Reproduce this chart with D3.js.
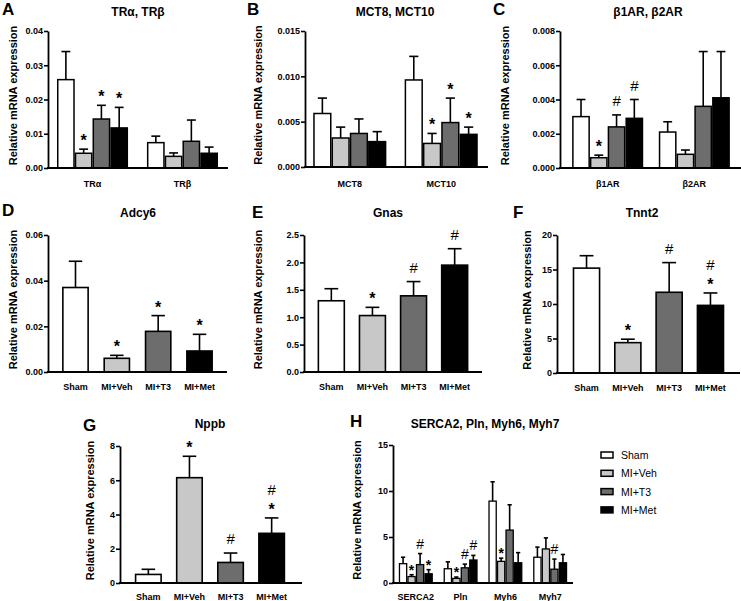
<!DOCTYPE html>
<html><head><meta charset="utf-8">
<script src="https://cdn.jsdelivr.net/npm/d3@7"></script>
<style>
body{margin:0;background:#fff;}
svg{display:block;font-family:"Liberation Sans",Arial,sans-serif;}
</style></head>
<body>
<svg id="chart" width="741" height="601"></svg>
<script>
// ---- data ----
const groups = ["Sham","MI+Veh","MI+T3","MI+Met"];
const groupColors = ["#ffffff","#c8c8c8","#6d6d6d","#000000"];

const catsA = ["TRα","TRβ"];
const meanA = [[0.0258,0.0043,0.0143,0.0117],[0.0074,0.0034,0.0078,0.0043]];
const semA  = [[0.0082,0.0012,0.0040,0.0060],[0.0019,0.0010,0.0062,0.0018]];
const marksA = [["","*","*","*"],["","","",""]];
const ticksA = [0,0.01,0.02,0.03,0.04];

const catsB = ["MCT8","MCT10"];
const meanB = [[0.0059,0.0032,0.0037,0.0028],[0.0096,0.0026,0.0049,0.0036]];
const semB  = [[0.0017,0.0012,0.0016,0.0011],[0.0026,0.0011,0.0027,0.0008]];
const marksB = [["","","",""],["","*","*","*"]];
const ticksB = [0,0.005,0.010,0.015];

const catsC = ["β1AR","β2AR"];
const meanC = [[0.0030,0.0006,0.0024,0.0029],[0.0021,0.0008,0.0036,0.0041]];
const semC  = [[0.0010,0.00015,0.0007,0.0011],[0.0006,0.00025,0.0032,0.0027]];
const marksC = [["","*","#","#"],["","","",""]];
const ticksC = [0,0.002,0.004,0.006,0.008];

const meanD = [0.037,0.006,0.0178,0.0092];
const semD  = [0.0115,0.0013,0.0069,0.0073];
const marksD = ["","*","*","*"];
const ticksD = [0,0.02,0.04,0.06];

const meanE = [1.30,1.03,1.39,1.95];
const semE  = [0.22,0.15,0.26,0.30];
const marksE = ["","*","#","#"];
const ticksE = [0,0.5,1.0,1.5,2.0,2.5];

const meanF = [15.2,4.4,11.7,9.8];
const semF  = [1.8,0.5,4.3,1.8];
const marksF = ["","*","#","#*"];
const ticksF = [0,5,10,15,20];

const meanG = [0.5,6.15,1.2,2.9];
const semG  = [0.3,1.25,0.55,0.9];
const marksG = ["","*","#","#*"];
const ticksG = [0,2,4,6,8];

const catsH = ["SERCA2","Pln","Myh6","Myh7"];
const meanH = [[2.1,0.7,2.0,1.0],[1.55,0.5,1.65,2.5],[8.9,2.35,5.75,2.2],[2.8,3.7,1.5,2.2]];
const semH  = [[0.7,0.2,1.2,0.45],[0.75,0.15,0.4,0.5],[2.1,0.35,2.75,1.1],[1.1,1.2,1.1,0.9]];
const marksH = [["","*","#","*"],["","*","#","#"],["","*","",""],["","","#",""]];
const ticksH = [0,5,10,15];

// ---- layout ----
const svg = d3.select("#chart");
const panels = [
 {letter:"A",lx:2,ly:15,title:"TRα, TRβ",tx:138,ty:16,ylx:13,x0:48,x1:227,axEnd:228,yTop:31,yBot:168,max:0.04,ticks:ticksA,fmt:".2f",cats:catsA,mean:meanA,sem:semA,marks:marksA,pi:0.21,po:0.1,labY:187},
 {letter:"B",lx:247,ly:15,title:"MCT8, MCT10",tx:395,ty:16,ylx:258,x0:305,x1:486,axEnd:488,yTop:31,yBot:167,max:0.015,ticks:ticksB,fmt:".3f",cats:catsB,mean:meanB,sem:semB,marks:marksB,pi:0.2,po:0.09,labY:187},
 {letter:"C",lx:493,ly:15,title:"β1AR, β2AR",tx:648,ty:16,ylx:505,x0:560,x1:742,axEnd:741,yTop:31,yBot:168,max:0.008,ticks:ticksC,fmt:".3f",cats:catsC,mean:meanC,sem:semC,marks:marksC,pi:0.18,po:0.14,labY:187},
 {letter:"D",lx:2,ly:216,title:"Adcy6",tx:138,ty:217,ylx:13,x0:48,x1:227,axEnd:227,yTop:235,yBot:372,max:0.06,ticks:ticksD,fmt:".2f",single:true,mean:meanD,sem:semD,marks:marksD,pi:0.35,po:0.34,labY:390},
 {letter:"E",lx:252,ly:218,title:"Gnas",tx:388,ty:217,ylx:258,x0:304,x1:482,axEnd:482,yTop:235,yBot:372,max:2.5,ticks:ticksE,fmt:".1f",single:true,mean:meanE,sem:semE,marks:marksE,pi:0.33,po:0.33,labY:390},
 {letter:"F",lx:513,ly:218,title:"Tnnt2",tx:642,ty:217,ylx:527,x0:557,x1:740,axEnd:740,yTop:235,yBot:373,max:20,ticks:ticksF,fmt:"d",single:true,mean:meanF,sem:semF,marks:marksF,pi:0.33,po:0.38,labY:391},
 {letter:"G",lx:83,ly:431,title:"Nppb",tx:210,ty:428,ylx:90,x0:120,x1:300,axEnd:302,yTop:446,yBot:583,max:8,ticks:ticksG,fmt:"d",single:true,mean:meanG,sem:semG,marks:marksG,pi:0.34,po:0.36,labY:600},
 {letter:"H",lx:350,ly:427,title:"SERCA2, Pln, Myh6, Myh7",tx:485,ty:428,ylx:357,x0:393,x1:573,axEnd:573,yTop:445,yBot:583,max:15,ticks:ticksH,fmt:"d",cats:catsH,mean:meanH,sem:semH,marks:marksH,pi:0.24,po:0.13,labY:600}
];

panels.forEach(p => {
  const g = svg.append("g");
  const y = d3.scaleLinear().domain([0,p.max]).range([p.yBot,p.yTop]);
  const cats = p.single ? groups : p.cats;
  const x = d3.scaleBand().domain(cats).range([p.x0,p.x1]).paddingInner(p.pi).paddingOuter(p.po);
  let bars = [];
  if (p.single) {
    groups.forEach((gname,i)=>bars.push({x:x(gname),w:x.bandwidth(),v:p.mean[i],e:p.sem[i],c:groupColors[i],m:p.marks[i]}));
  } else {
    const xi = d3.scaleBand().domain(groups).range([0,x.bandwidth()]);
    cats.forEach((c,ci)=>groups.forEach((gname,i)=>bars.push({x:x(c)+xi(gname),w:xi.bandwidth(),v:p.mean[ci][i],e:p.sem[ci][i],c:groupColors[i],m:p.marks[ci][i]})));
  }
  const small = !p.single && cats.length>2;
  const sw = p.single ? 1.6 : (small ? 1.3 : 1.5);
  // error bars
  bars.forEach(b=>{
    const cx = b.x + b.w/2, top = y(b.v+b.e), capW = Math.min(b.w*0.5,14);
    g.append("line").attr("x1",cx).attr("x2",cx).attr("y1",y(b.v)).attr("y2",top).attr("stroke","#000").attr("stroke-width",1.6);
    g.append("line").attr("x1",cx-capW/2).attr("x2",cx+capW/2).attr("y1",top).attr("y2",top).attr("stroke","#000").attr("stroke-width",1.6);
  });
  bars.forEach(b=>{
    g.append("rect").attr("x",b.x+sw/2).attr("y",y(b.v)).attr("width",Math.max(0,b.w-sw)).attr("height",y(0)-y(b.v))
      .attr("fill",b.c).attr("stroke","#000").attr("stroke-width",sw);
  });
  // significance marks
  bars.forEach(b=>{
    if(!b.m) return;
    const cx = b.x + b.w/2, top = y(b.v+b.e);
    const hasStar = b.m.includes("*"), hasHash = b.m.includes("#");
    let base = top - (small ? 1 : 3);
    if (hasStar) {
      g.append("text").attr("x",cx).attr("y",small ? top : top-3).attr("text-anchor","middle").attr("font-size",small?14:16).attr("font-weight","bold").text("*");
      base -= 14;
    }
    if (hasHash) {
      g.append("text").attr("x",cx).attr("y",base-(small?4:6)).attr("text-anchor","middle").attr("font-size",small?14:15).text("#");
    }
  });
  // y axis
  const ya = g.append("g").attr("transform",`translate(${p.x0},0)`)
    .call(d3.axisLeft(y).tickValues(p.ticks).tickFormat(d3.format(p.fmt)).tickSize(4).tickSizeOuter(0));
  ya.select(".domain").attr("stroke-width",1.8);
  ya.selectAll(".tick line").attr("stroke-width",1.6);
  ya.selectAll("text").attr("font-size",9).attr("font-weight","bold").attr("font-family","Liberation Sans, Arial, sans-serif").attr("fill","#000").attr("x",-5);
  // x axis line
  g.append("line").attr("x1",p.x0-1).attr("x2",p.axEnd).attr("y1",p.yBot).attr("y2",p.yBot).attr("stroke","#000").attr("stroke-width",1.8);
  // category labels
  cats.forEach(c=>{
    g.append("text").attr("x",x(c)+x.bandwidth()/2).attr("y",p.labY).attr("text-anchor","middle")
      .attr("font-size",9).attr("font-weight","bold").text(c);
  });
  // y label
  const cy = (p.yTop+p.yBot)/2 - 4;
  g.append("text").attr("transform",`translate(${p.ylx+4},${cy}) rotate(-90)`).attr("text-anchor","middle")
    .attr("font-size",11).attr("font-weight","bold").text("Relative mRNA expression");
  // title
  g.append("text").attr("x",p.tx).attr("y",p.ty).attr("text-anchor","middle").attr("font-size",12).attr("font-weight","bold").text(p.title);
  // letter
  g.append("text").attr("x",p.lx).attr("y",p.ly).attr("font-size",17).attr("font-weight","bold").text(p.letter);
});

// legend
const leg = svg.append("g");
groups.forEach((gname,i)=>{
  const yy = 455 + i*18.3;
  leg.append("rect").attr("x",601).attr("y",yy-3).attr("width",12).attr("height",6).attr("fill",groupColors[i]).attr("stroke","#000").attr("stroke-width",1.5);
  leg.append("text").attr("x",621).attr("y",yy+4).attr("font-size",10.5).text(gname);
});
</script>
</body></html>
